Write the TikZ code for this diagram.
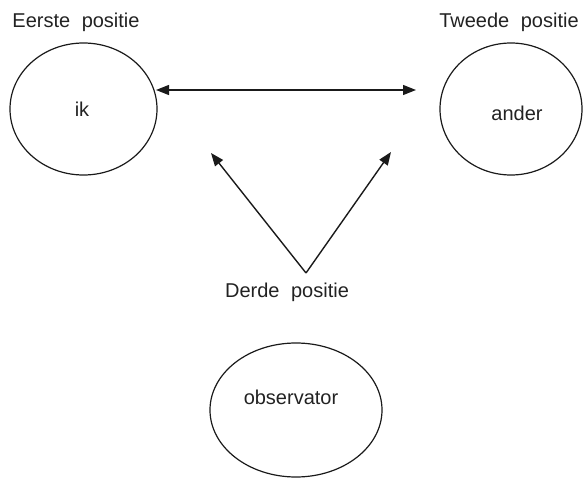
\documentclass[tikz,border=0pt]{standalone}
\usepackage{fontspec}
\setmainfont{Liberation Sans}
\usetikzlibrary{shapes.geometric,arrows.meta}
\definecolor{txt}{HTML}{222222}
\definecolor{ln}{HTML}{1A1A1A}
\newcommand{\gapsp}{\hspace{0.3em} }
\tikzset{
  oval/.style={draw=ln, line width=1.2pt, ellipse, inner sep=0pt},
  lbl/.style={text=txt, inner sep=0pt, font=\fontsize{20}{23}\selectfont},
  conn/.style={draw=ln, line width=1.4pt, -{Triangle[length=13pt,width=10pt]}},
  dconn/.style={draw=ln, line width=1.4pt, {Triangle[length=13pt,width=10pt]}-{Triangle[length=13pt,width=10pt]}}
}
\begin{document}
\begin{tikzpicture}[x=1pt,y=-1pt]
\useasboundingbox (0,0) rectangle (584,479);
% ellipses
\node[oval, minimum width=147pt, minimum height=132pt] (ik) at (83.5,109) {};
\node[oval, minimum width=142pt, minimum height=132pt] (ander) at (511,109) {};
\node[oval, minimum width=172pt, minimum height=134pt] (obs) at (296,410) {};
% texts
\node[lbl] (tik) at (82,109) {ik};
\node[lbl] (tander) at (517,113) {ander};
\node[lbl] (tobs) at (291,397) {observator};
\node[lbl] (eerste) at (76,22) {Eerste\gapsp positie};
\node[lbl] (tweede) at (509,22) {Tweede\gapsp positie};
\node[lbl] (derde) at (287,292) {Derde\gapsp positie};
% connectors
\coordinate (a1) at (156,90);
\coordinate (a2) at (416,90);
\coordinate (apex) at (306,273);
\coordinate (tl) at (211,153);
\coordinate (tr) at (391,152);
\draw[dconn] (a1) -- (a2);
\draw[conn] (apex) -- (tl);
\draw[conn] (apex) -- (tr);
\end{tikzpicture}
\end{document}
